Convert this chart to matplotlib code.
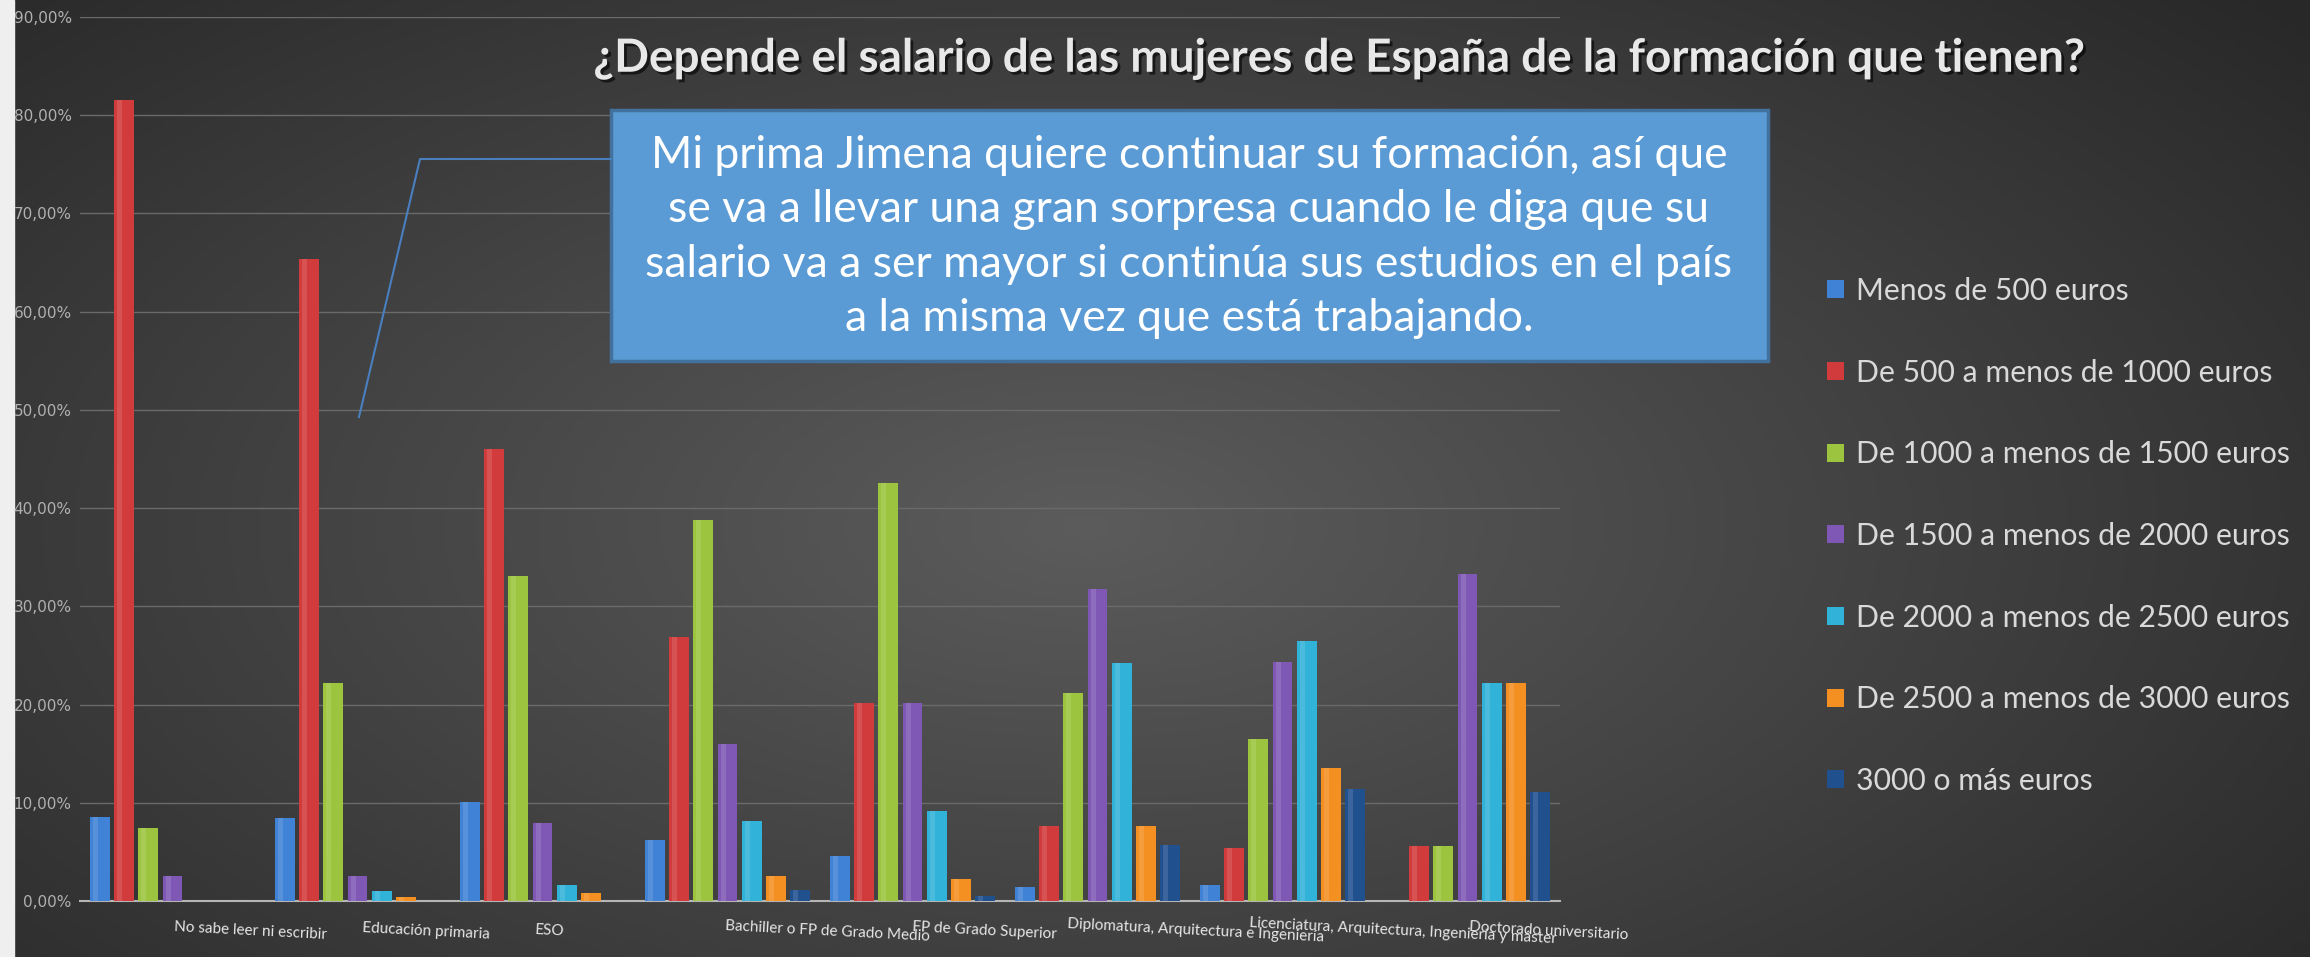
import numpy as np
import matplotlib.pyplot as plt
import matplotlib.patheffects as pe
from matplotlib.patches import Rectangle
from matplotlib.lines import Line2D

categorias = ['No sabe leer ni escribir', 'Educación primaria', 'ESO',
              'Bachiller o FP de Grado Medio', 'FP de Grado Superior',
              'Diplomatura, Arquitectura e Ingeniería',
              'Licenciatura, Arquitectura, Ingeniería y máster',
              'Doctorado universitario']

series = ['Menos de 500 euros', 'De 500 a menos de 1000 euros',
          'De 1000 a menos de 1500 euros', 'De 1500 a menos de 2000 euros',
          'De 2000 a menos de 2500 euros', 'De 2500 a menos de 3000 euros',
          '3000 o más euros']

# porcentajes
menos_500 = [8.6, 8.4, 10.1, 6.2, 4.6, 1.4, 1.6, 0.0]
de_500_1000 = [81.5, 65.4, 46.0, 26.9, 20.2, 7.6, 5.4, 5.56]
de_1000_1500 = [7.4, 22.2, 33.1, 38.8, 42.6, 21.2, 16.5, 5.56]
de_1500_2000 = [2.5, 2.5, 7.9, 16.0, 20.2, 31.8, 24.3, 33.33]
de_2000_2500 = [0.0, 1.0, 1.6, 8.1, 9.2, 24.2, 26.5, 22.22]
de_2500_3000 = [0.0, 0.4, 0.8, 2.5, 2.2, 7.6, 13.5, 22.22]
mas_3000 = [0.0, 0.0, 0.0, 1.1, 0.5, 5.7, 11.4, 11.11]

valores = [menos_500, de_500_1000, de_1000_1500, de_1500_2000,
           de_2000_2500, de_2500_3000, mas_3000]
colores = ['#3f82d6', '#d23b3b', '#9cc43e', '#7f58b6', '#31b2d8', '#f48f22', '#21508f']

# desplazamiento de las etiquetas del eje x (estan corridas en el original)
desplaz_etiquetas = [0.42, 0.37, 0.04, 0.54, 0.39, 0.53, 0.65, 0.44]

fig = plt.figure(figsize=(23.1, 9.57), dpi=100)

# fondo con degradado radial
bg = fig.add_axes([0, 0, 1, 1], zorder=-10)
yy, xx = np.mgrid[0:1:300j, 0:1:700j]
d = np.sqrt(((xx - 0.47) / 0.75) ** 2 + ((yy - 0.45) / 0.9) ** 2)
g = np.clip(0.36 - 0.22 * d, 0.16, 0.36)
bg.imshow(np.dstack([g, g, g]), extent=[0, 1, 0, 1], aspect='auto', origin='lower')
bg.add_patch(Rectangle((0, 0), 14 / 2310, 1, color='#efefef', transform=bg.transAxes))
bg.axis('off')

ax = fig.add_axes([80 / 2310, 1 - 901 / 957, 1480 / 2310, 884 / 957])
ax.patch.set_alpha(0)

n = len(series)
ancho = 0.108
paso = 0.131
x = np.arange(len(categorias))
barras = []
for k in range(n):
    b = ax.bar(x + (k - 3) * paso, np.array(valores[k]) / 100, width=ancho,
               color=colores[k], edgecolor='none', label=series[k], zorder=3)
    barras.append(b)
    # brillo lateral para simular el volumen
    ax.bar(x + (k - 3) * paso - ancho * 0.22, np.array(valores[k]) / 100, width=ancho * 0.25,
           color='white', alpha=0.12, edgecolor='none', zorder=4)

ax.set_xlim(-0.5, 7.5)
ax.set_ylim(0, 0.9)
ax.set_yticks(np.arange(0, 0.91, 0.1))
ax.set_yticklabels([('%.2f%%' % (v * 100)).replace('.', ',') for v in np.arange(0, 0.91, 0.1)],
                   fontsize=11, color='#b0b0b0', family='DejaVu Sans')
ax.tick_params(axis='y', length=0, pad=6)
ax.set_xticks([])
ax.grid(axis='y', color='#6a6a6a', linewidth=1, zorder=0)
for s in ['top', 'right', 'left']:
    ax.spines[s].set_visible(False)
ax.spines['bottom'].set_color('#b5b5b5')
ax.spines['bottom'].set_linewidth(1.5)

for i, cat in enumerate(categorias):
    ax.text(i + desplaz_etiquetas[i], -0.034, cat, transform=ax.get_xaxis_transform(),
            ha='center', va='center', rotation=-3, fontsize=11, color='#e6e6e6',
            family='Lato', clip_on=False)

fig.text(1340 / 2310, 1 - 59 / 957,
         '¿Depende el salario de las mujeres de España de la formación que tienen?',
         ha='center', va='center', fontsize=33, fontweight='bold', color='#e8e8e8', family='Lato',
         path_effects=[pe.withSimplePatchShadow(offset=(2, -2), shadow_rgbFace='black', alpha=0.6)])

# cuadro de texto con linea de llamada
fig.add_artist(Line2D([611 / 2310, 420 / 2310, 359 / 2310],
                      [1 - 159 / 957, 1 - 159 / 957, 1 - 417 / 957],
                      color='#4a7fbf', linewidth=1.5))
fig.add_artist(Rectangle((611 / 2310, 1 - 361 / 957), 1157 / 2310, 251 / 957,
                         facecolor='#5b9bd5', edgecolor='#41719c', linewidth=2.5,
                         transform=fig.transFigure))
texto = ('Mi prima Jimena quiere continuar su formación, así que\n'
         'se va a llevar una gran sorpresa cuando le diga que su\n'
         'salario va a ser mayor si continúa sus estudios en el país\n'
         'a la misma vez que está trabajando.')
fig.text(1189 / 2310, 1 - 237 / 957, texto, ha='center', va='center', fontsize=32,
         color='white', family='Lato', linespacing=1.4)

leg = fig.legend(handles=barras, labels=series, loc='upper left',
                 bbox_to_anchor=(1812 / 2310, 1 - 262 / 957), frameon=False,
                 labelcolor='#d9d9d9', handlelength=0.55, handleheight=0.55,
                 handletextpad=0.4, labelspacing=1.78, borderpad=0,
                 prop={'family': 'Lato', 'size': 21.7})

fig.savefig('out.png', dpi=100)
